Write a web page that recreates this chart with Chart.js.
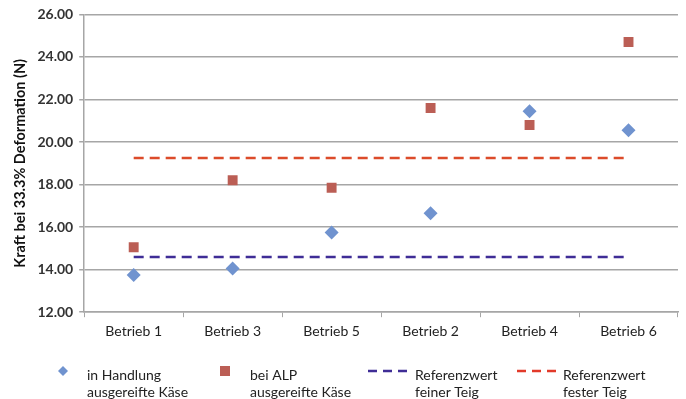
<!DOCTYPE html>
<html>
<head>
<meta charset="utf-8">
<script src="https://cdn.jsdelivr.net/npm/chart.js@4.4.1/dist/chart.umd.min.js"></script>
<style>
  html, body { margin: 0; padding: 0; background: #fff; }
  #wrap { width: 686px; height: 399px; }
</style>
</head>
<body>
<div id="wrap"><canvas id="chart"></canvas></div>
<script>
// Daten aus der Vorlage
const categories = ['Betrieb 1', 'Betrieb 3', 'Betrieb 5', 'Betrieb 2', 'Betrieb 4', 'Betrieb 6'];
const handlung = [13.75, 14.05, 15.75, 16.65, 21.45, 20.55];
const alp = [15.05, 18.2, 17.85, 21.6, 20.8, 24.7];
const refFein = [14.6, 14.6, 14.6, 14.6, 14.6, 14.6];
const refFest = [19.25, 19.25, 19.25, 19.25, 19.25, 19.25];
const legendLabels = [
  ['in Handlung', 'ausgereifte Käse'],
  ['bei ALP', 'ausgereifte Käse'],
  ['Referenzwert', 'feiner Teig'],
  ['Referenzwert', 'fester Teig']
];

const FONT = 'Lato, "Open Sans", sans-serif';
const GRID = '#a6a6a6';

// eigene Legende unter dem Diagramm (zweizeilige Texte)
const bottomLegend = {
  id: 'bottomLegend',
  afterDraw(chart) {
    const ctx = chart.ctx;
    const xs = [63, 225, 368, 517];
    const textX = [87, 250, 415, 563];
    const y = 371;
    ctx.save();
    chart.data.datasets.forEach((ds, i) => {
      ctx.fillStyle = ds.backgroundColor;
      ctx.strokeStyle = ds.backgroundColor;
      if (i === 0) {
        ctx.beginPath();
        ctx.moveTo(xs[0], y - 5);
        ctx.lineTo(xs[0] + 5, y);
        ctx.lineTo(xs[0], y + 5);
        ctx.lineTo(xs[0] - 5, y);
        ctx.closePath();
        ctx.fill();
      } else if (i === 1) {
        ctx.fillRect(xs[1] - 5, y - 5, 10, 10);
      } else {
        ctx.lineWidth = 2.5;
        ctx.setLineDash([9, 6]);
        ctx.beginPath();
        ctx.moveTo(xs[i], y);
        ctx.lineTo(xs[i] + 39, y);
        ctx.stroke();
        ctx.setLineDash([]);
      }
      ctx.fillStyle = '#222';
      ctx.font = '14px ' + FONT;
      ctx.textBaseline = 'middle';
      ctx.fillText(legendLabels[i][0], textX[i], y + 4);
      ctx.fillText(legendLabels[i][1], textX[i], y + 21);
    });
    ctx.restore();
  }
};

new Chart(document.getElementById('chart'), {
  type: 'line',
  data: {
    labels: categories,
    datasets: [
      {
        label: 'in Handlung ausgereifte Käse',
        data: handlung,
        showLine: false,
        pointStyle: 'rectRot',
        pointRadius: 7,
        backgroundColor: '#7093cf',
        borderColor: '#7093cf',
        borderWidth: 0
      },
      {
        label: 'bei ALP ausgereifte Käse',
        data: alp,
        showLine: false,
        pointStyle: 'rect',
        pointRadius: 7,
        backgroundColor: '#bb5e55',
        borderColor: '#bb5e55',
        borderWidth: 0
      },
      {
        label: 'Referenzwert feiner Teig',
        data: refFein,
        borderColor: '#3f2d96',
        backgroundColor: '#3f2d96',
        borderWidth: 2.5,
        borderDash: [10, 6],
        pointRadius: 0,
        fill: false
      },
      {
        label: 'Referenzwert fester Teig',
        data: refFest,
        borderColor: '#dc4b2a',
        backgroundColor: '#e23a2a',
        borderWidth: 2.5,
        borderDash: [10, 6],
        pointRadius: 0,
        fill: false
      }
    ]
  },
  options: {
    responsive: true,
    maintainAspectRatio: false,
    animation: false,
    layout: { padding: { top: 8, right: 8, bottom: 53, left: 12 } },
    plugins: {
      legend: { display: false },
      tooltip: { enabled: false }
    },
    scales: {
      x: {
        offset: true,
        grid: {
          offset: true,
          drawOnChartArea: false,
          drawTicks: true,
          tickLength: 5,
          color: GRID
        },
        border: { color: GRID, width: 1.5 },
        ticks: {
          color: '#222',
          padding: 6,
          font: { size: 14, family: FONT }
        }
      },
      y: {
        min: 12,
        max: 26,
        grid: { color: GRID, lineWidth: 1.5, tickLength: 5 },
        border: { color: GRID, width: 1.5 },
        ticks: {
          stepSize: 2,
          color: '#333',
          padding: 6,
          font: { size: 14, family: FONT, weight: 'bold' },
          callback: v => v.toFixed(2)
        },
        title: {
          display: true,
          text: 'Kraft bei 33.3% Deformation (N)',
          color: '#111',
          font: { size: 14.5, family: FONT, weight: 'bold' },
          padding: { top: 0, bottom: 2 }
        }
      }
    }
  },
  plugins: [bottomLegend]
});
</script>
</body>
</html>
